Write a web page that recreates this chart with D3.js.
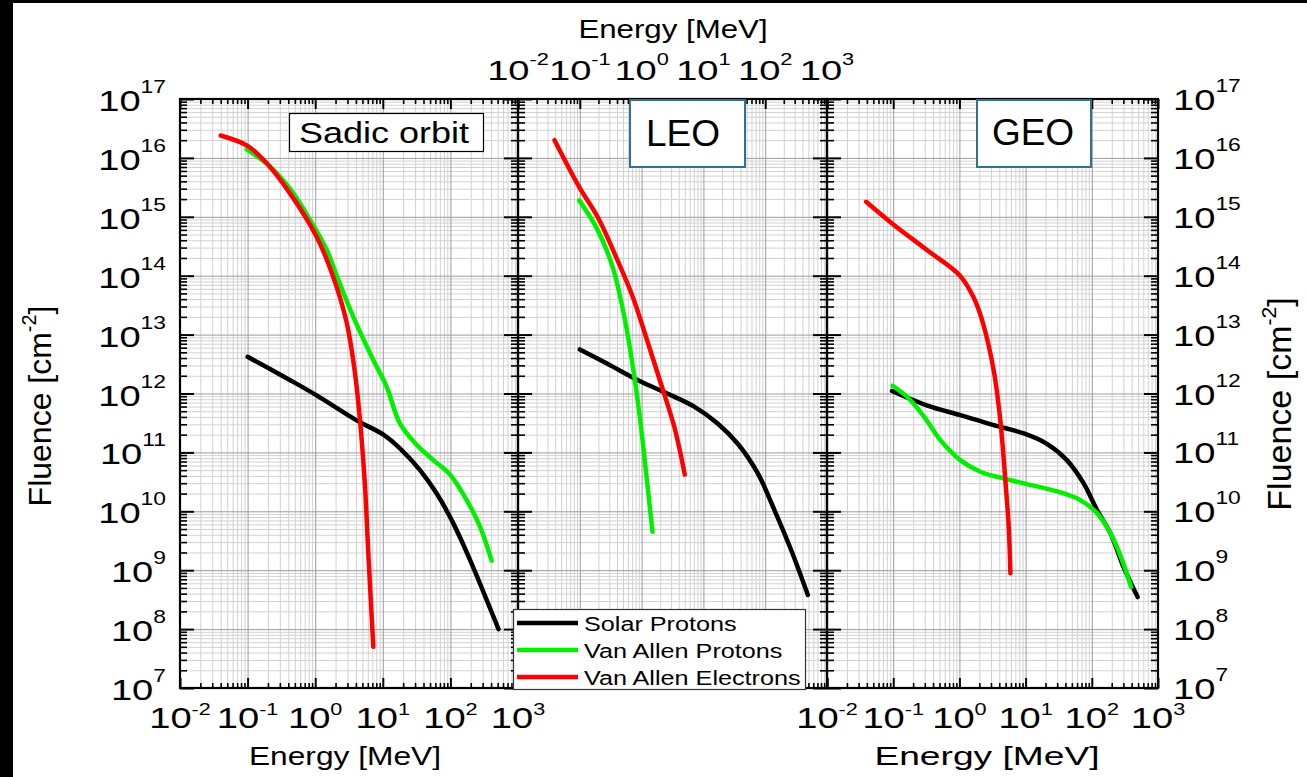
<!DOCTYPE html>
<html>
<head>
<meta charset="utf-8">
<script src="https://cdn.jsdelivr.net/npm/d3@7"></script>
<style>
  html, body { margin: 0; padding: 0; background: #fff; }
  svg { display: block; font-family: "Liberation Sans", Arial, sans-serif; }
</style>
</head>
<body>
<div id="chart"></div>
<script>
// ── Data ──────────────────────────────────────────────────────────────────
const PANEL_NAMES  = ['Sadic orbit', 'LEO', 'GEO'];
const SERIES_NAMES = ['Solar Protons', 'Van Allen Protons', 'Van Allen Electrons'];
const X_EXPONENTS  = [-2, -1, 0, 1, 2, 3];
const Y_EXPONENTS  = [7, 8, 9, 10, 11, 12, 13, 14, 15, 16, 17];

// Sadic orbit
const sadicSolarE = [0.1, 0.42, 1.05, 4.1, 10.2, 17.9, 35.5, 62.7, 110, 195, 515];
const sadicSolarF = [4.2e12, 1.7e12, 9.3e11, 3.5e11, 2.0e11, 1.17e11, 5.0e10, 2.0e10, 6.3e9, 1.5e9, 1.0e8];
const sadicVapE   = [0.097, 0.214, 0.424, 0.838, 1.48, 2.2, 3.66, 7.24, 11.4, 17.9, 31.6, 56, 98.6, 174, 274, 407];
const sadicVapF   = [1.4e16, 7.2e15, 3.0e15, 8.9e14, 2.75e14, 8.5e13, 2.0e13, 3.7e12, 1.3e12, 3.1e11, 1.35e11, 7.4e10, 4.2e10, 1.55e10, 5.5e9, 1.45e9];
const sadicVaeE   = [0.04, 0.1, 0.192, 0.424, 1.05, 1.85, 2.92, 3.88, 4.6, 5.46, 6.11, 7.24];
const sadicVaeF   = [2.4e16, 1.6e16, 8.1e15, 2.5e15, 4.6e14, 9.5e13, 1.6e13, 2.2e12, 3.5e11, 2.6e10, 1.9e9, 5.0e7];

// LEO
const leoSolarE = [0.1, 0.28, 0.86, 2.6, 7.1, 17, 36, 76, 141, 263, 490];
const leoSolarF = [5.6e12, 3.2e12, 1.7e12, 1.0e12, 6.0e11, 3.1e11, 1.4e11, 4.4e10, 1.05e10, 2.2e9, 3.8e8];
const leoVapE   = [0.098, 0.194, 0.34, 0.526, 0.736, 0.944, 1.17, 1.5];
const leoVapF   = [1.9e15, 6.0e14, 1.4e14, 2.0e13, 2.5e12, 3.7e11, 5.0e10, 4.5e9];
const leoVaeE   = [0.039, 0.098, 0.194, 0.385, 0.718, 1.18, 2.0, 3.37, 5.0];
const leoVaeF   = [2.0e16, 3.2e15, 1.0e15, 2.1e14, 4.4e13, 9.1e12, 1.6e12, 2.75e11, 4.2e10];

// GEO
const geoSolarE = [0.096, 0.32, 1.03, 3.3, 9.4, 21, 42, 75, 120, 190, 300, 493];
const geoSolarF = [1.1e12, 6.3e11, 4.3e11, 2.9e11, 2.1e11, 1.4e11, 7.4e10, 3.0e10, 1.05e10, 4.3e9, 1.15e9, 3.5e8];
const geoVapE   = [0.098, 0.16, 0.29, 0.52, 1.03, 2.07, 4.7, 10.5, 33.5, 67, 120, 190, 286, 391];
const geoVapF   = [1.35e12, 8.9e11, 4.1e11, 1.6e11, 7.4e10, 4.7e10, 3.6e10, 2.9e10, 2.1e10, 1.55e10, 9.3e9, 4.3e9, 1.5e9, 5.2e8];
const geoVaeE   = [0.039, 0.095, 0.32, 1.02, 1.62, 2.19, 3.29, 4.15, 4.94, 5.56, 5.9];
const geoVaeF   = [1.8e15, 7.8e14, 2.75e14, 1.0e14, 4.4e13, 1.8e13, 2.5e12, 3.5e11, 3.4e10, 5.5e9, 8.9e8];

const PANEL_SERIES = [
  [[sadicSolarE, sadicSolarF], [sadicVapE, sadicVapF], [sadicVaeE, sadicVaeF]],
  [[leoSolarE, leoSolarF], [leoVapE, leoVapF], [leoVaeE, leoVaeF]],
  [[geoSolarE, geoSolarF], [geoVapE, geoVapF], [geoVaeE, geoVaeF]]
];

// ── Layout / style ────────────────────────────────────────────────────────
const W = 1307, H = 777;
const COLORS = ['#000000', '#00f000', '#ff0000'];
const PANEL_LEFT  = [180, 518, 827];
const PANEL_RIGHT = [518, 827, 1158];
const TOP = 99, BOTTOM = 688;
const MINOR_GRID = '#d2d2d2', MAJOR_GRID = '#9c9c9c';

const svg = d3.select('#chart').append('svg')
  .attr('width', W).attr('height', H)
  .attr('viewBox', `0 0 ${W} ${H}`);

svg.append('rect').attr('width', W).attr('height', H).attr('fill', '#fff');
// black edge of the scanned figure
svg.append('rect').attr('x', 0).attr('y', 0).attr('width', 13).attr('height', H).attr('fill', '#000');
svg.append('rect').attr('x', 0).attr('y', 0).attr('width', W).attr('height', 3).attr('fill', '#000');

function minorTicks(exps) {
  const out = [];
  exps.slice(0, -1).forEach(e => {
    for (let k = 2; k <= 9; k++) out.push(k * Math.pow(10, e));
  });
  return out;
}

function axisLines(g, axis, transform, color, width) {
  g.append('g')
    .attr('transform', transform)
    .call(axis.tickFormat(''))
    .call(a => a.select('.domain').remove())
    .call(a => a.selectAll('.tick line').attr('stroke', color).attr('stroke-width', width));
}

// "10" with superscript exponent, horizontally stretched like the source
function powLabel(parent, x, y, exp, o) {
  const t = parent.append('text')
    .attr('transform', `translate(${x},${y}) scale(${o.sx},1)`)
    .attr('text-anchor', o.anchor)
    .attr('font-size', o.size)
    .attr('fill', '#000');
  t.append('tspan').text('10');
  t.append('tspan').attr('dy', -o.raise).attr('font-size', o.sup).text(exp);
}

function plainText(parent, x, y, str, size, sx, anchor) {
  return parent.append('text')
    .attr('transform', `translate(${x},${y}) scale(${sx},1)`)
    .attr('text-anchor', anchor || 'middle')
    .attr('font-size', size)
    .attr('fill', '#000')
    .text(str);
}

const xMajor = X_EXPONENTS.map(e => Math.pow(10, e));
const xMinor = minorTicks(X_EXPONENTS);
const yMajor = Y_EXPONENTS.map(e => Math.pow(10, e));
const yMinor = minorTicks(Y_EXPONENTS);

// ── Panels ────────────────────────────────────────────────────────────────
PANEL_NAMES.forEach((name, p) => {
  const x0 = PANEL_LEFT[p], x1 = PANEL_RIGHT[p];
  const innerW = x1 - x0, innerH = BOTTOM - TOP;
  const x = d3.scaleLog().domain([xMajor[0], xMajor[xMajor.length - 1]]).range([x0, x1]);
  const y = d3.scaleLog().domain([yMajor[0], yMajor[yMajor.length - 1]]).range([BOTTOM, TOP]);
  const g = svg.append('g');

  // Grid
  axisLines(g, d3.axisBottom(x).tickValues(xMinor).tickSize(-innerH), `translate(0,${BOTTOM})`, MINOR_GRID, 1);
  axisLines(g, d3.axisLeft(y).tickValues(yMinor).tickSize(-innerW), `translate(${x0},0)`, MINOR_GRID, 1);
  axisLines(g, d3.axisBottom(x).tickValues(xMajor).tickSize(-innerH), `translate(0,${BOTTOM})`, MAJOR_GRID, 1);
  axisLines(g, d3.axisLeft(y).tickValues(yMajor).tickSize(-innerW), `translate(${x0},0)`, MAJOR_GRID, 1);

  // Curves
  const line = d3.line()
    .x(d => x(d[0]))
    .y(d => y(d[1]))
    .curve(d3.curveCatmullRom.alpha(0.5));

  PANEL_SERIES[p].forEach(([E, F], s) => {
    g.append('path')
      .datum(d3.zip(E, F))
      .attr('fill', 'none')
      .attr('stroke', COLORS[s])
      .attr('stroke-width', 4.5)
      .attr('stroke-linecap', 'round')
      .attr('stroke-linejoin', 'round')
      .attr('d', line);
  });

  // Inward ticks on all four sides
  axisLines(g, d3.axisBottom(x).tickValues(xMinor).tickSize(-5), `translate(0,${BOTTOM})`, '#000', 1.6);
  axisLines(g, d3.axisBottom(x).tickValues(xMajor).tickSize(-10), `translate(0,${BOTTOM})`, '#000', 2);
  axisLines(g, d3.axisTop(x).tickValues(xMinor).tickSize(-5), `translate(0,${TOP})`, '#000', 1.6);
  axisLines(g, d3.axisTop(x).tickValues(xMajor).tickSize(-10), `translate(0,${TOP})`, '#000', 2);
  axisLines(g, d3.axisLeft(y).tickValues(yMinor).tickSize(-7), `translate(${x0},0)`, '#000', 1.6);
  axisLines(g, d3.axisLeft(y).tickValues(yMajor).tickSize(-14), `translate(${x0},0)`, '#000', 2);
  axisLines(g, d3.axisRight(y).tickValues(yMinor).tickSize(-7), `translate(${x1},0)`, '#000', 1.6);
  axisLines(g, d3.axisRight(y).tickValues(yMajor).tickSize(-14), `translate(${x1},0)`, '#000', 2);

  g.append('rect')
    .attr('x', x0).attr('y', TOP)
    .attr('width', innerW).attr('height', innerH)
    .attr('fill', 'none').attr('stroke', '#000').attr('stroke-width', 2.2);

  // Tick labels
  if (p !== 1) {
    X_EXPONENTS.forEach(e => powLabel(svg, x(Math.pow(10, e)), 728, e,
      { sx: 1.27, size: 30, sup: 17, raise: 13.5, anchor: 'middle' }));
  } else {
    X_EXPONENTS.forEach(e => powLabel(svg, x(Math.pow(10, e)), 80, e,
      { sx: 1.36, size: 28, sup: 16, raise: 15, anchor: 'middle' }));
  }
  if (p === 0) {
    Y_EXPONENTS.forEach(e => powLabel(svg, 166, y(Math.pow(10, e)) + 12, e,
      { sx: 1.27, size: 30, sup: 18, raise: 18, anchor: 'end' }));
  }
  if (p === 2) {
    Y_EXPONENTS.forEach(e => powLabel(svg, 1173, y(Math.pow(10, e)) + 11, e,
      { sx: 1.27, size: 30, sup: 18, raise: 18, anchor: 'start' }));
  }
});

// ── Panel name boxes ──────────────────────────────────────────────────────
svg.append('rect').attr('x', 289.5).attr('y', 113.5).attr('width', 194).attr('height', 38)
  .attr('fill', '#fff').attr('stroke', '#000').attr('stroke-width', 1.2);
plainText(svg, 384, 143, PANEL_NAMES[0], 30, 1.2);

svg.append('rect').attr('x', 630).attr('y', 100).attr('width', 115).attr('height', 67)
  .attr('fill', '#fff').attr('stroke', '#31708f').attr('stroke-width', 2);
plainText(svg, 683, 146, PANEL_NAMES[1], 37, 1);

svg.append('rect').attr('x', 977).attr('y', 100).attr('width', 114).attr('height', 67)
  .attr('fill', '#fff').attr('stroke', '#31708f').attr('stroke-width', 2);
plainText(svg, 1033, 145, PANEL_NAMES[2], 37, 1);

// ── Axis titles ───────────────────────────────────────────────────────────
plainText(svg, 345, 765, 'Energy [MeV]', 26, 1.22);
plainText(svg, 673, 38, 'Energy [MeV]', 25, 1.25);
plainText(svg, 987, 765, 'Energy [MeV]', 26, 1.43);

function fluenceTitle(cx, cy, size) {
  const t = svg.append('text')
    .attr('transform', `translate(${cx + size * 0.36},${cy}) rotate(-90)`)
    .attr('text-anchor', 'middle')
    .attr('font-size', size)
    .attr('fill', '#000');
  t.append('tspan').text('Fluence [cm');
  t.append('tspan').attr('dy', -size * 0.45).attr('font-size', size * 0.62).text('-2');
  t.append('tspan').attr('dy', size * 0.45).text(']');
}
fluenceTitle(39, 406, 32);
fluenceTitle(1279, 404, 34);

// ── Legend ────────────────────────────────────────────────────────────────
const legend = svg.append('g');
legend.append('rect').attr('x', 513.5).attr('y', 609.5).attr('width', 292).attr('height', 80)
  .attr('fill', '#fff').attr('stroke', '#333').attr('stroke-width', 1.2);
SERIES_NAMES.forEach((s, i) => {
  const ly = 623 + i * 27;
  legend.append('line').attr('x1', 517).attr('x2', 578).attr('y1', ly).attr('y2', ly)
    .attr('stroke', COLORS[i]).attr('stroke-width', 4.5);
  plainText(legend, 584, ly + 8, s, 21, 1.2, 'start');
});
</script>
</body>
</html>
